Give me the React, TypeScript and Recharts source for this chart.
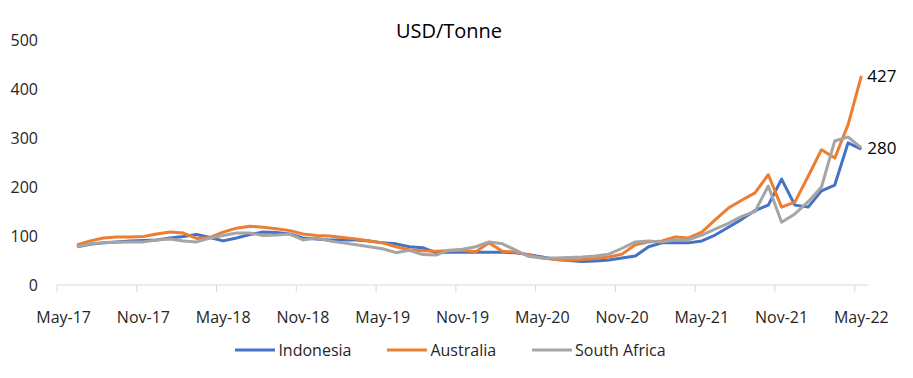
import { LineChart, Line, XAxis, YAxis, Legend, LabelList } from "recharts";

const months = [
  "May-17", "Jun-17", "Jul-17", "Aug-17", "Sep-17", "Oct-17", "Nov-17", "Dec-17",
  "Jan-18", "Feb-18", "Mar-18", "Apr-18", "May-18", "Jun-18", "Jul-18", "Aug-18",
  "Sep-18", "Oct-18", "Nov-18", "Dec-18", "Jan-19", "Feb-19", "Mar-19", "Apr-19",
  "May-19", "Jun-19", "Jul-19", "Aug-19", "Sep-19", "Oct-19", "Nov-19", "Dec-19",
  "Jan-20", "Feb-20", "Mar-20", "Apr-20", "May-20", "Jun-20", "Jul-20", "Aug-20",
  "Sep-20", "Oct-20", "Nov-20", "Dec-20", "Jan-21", "Feb-21", "Mar-21", "Apr-21",
  "May-21", "Jun-21", "Jul-21", "Aug-21", "Sep-21", "Oct-21", "Nov-21", "Dec-21",
  "Jan-22", "Feb-22", "Mar-22", "Apr-22", "May-22",
];

// month indexes that carry a label on the axis
const tickIndexes = [0, 6, 12, 18, 24, 30, 36, 42, 48, 54, 60];
const yTicks = [0, 100, 200, 300, 400, 500];

const indonesia = [
  null, 78, 83, 86, 88, 90, 91, 92, 96, 99, 103, 97, 90, 96, 103, 108,
  107, 104, 96, 94, 92, 92, 92, 90, 86, 84, 78, 76, 66, 67, 67, 67,
  67, 67, 66, 62, 57, 52, 50, 48, 49, 51, 55, 59, 78, 86, 86, 86,
  90, 102, 118, 134, 152, 163, 216, 163, 159, 192, 204, 290, 277,
];
const australia = [
  null, 82, 90, 96, 98, 98, 99, 104, 108, 106, 95, 97, 108, 116, 120, 118,
  115, 111, 104, 101, 100, 97, 94, 90, 86, 78, 72, 70, 69, 70, 71, 68,
  86, 69, 67, 61, 55, 52, 51, 52, 54, 57, 63, 82, 88, 90, 98, 96,
  108, 133, 157, 173, 188, 225, 159, 169, 222, 276, 259, 327, 427,
];
const southAfrica = [
  null, 78, 84, 86, 87, 88, 88, 92, 94, 90, 88, 96, 101, 106, 106, 101,
  102, 104, 92, 96, 90, 86, 82, 78, 74, 66, 71, 62, 61, 71, 73, 78,
  88, 84, 71, 58, 55, 55, 56, 57, 59, 63, 75, 88, 90, 88, 92, 92,
  102, 114, 126, 140, 150, 202, 128, 145, 170, 200, 294, 302, 280,
];

const data = months.map((m, i) => ({
  i,
  month: m,
  indonesia: indonesia[i],
  australia: australia[i],
  southAfrica: southAfrica[i],
}));

const W = 913;
const H = 378;
const PLOT_LEFT = 57;
const PLOT_RIGHT = 868;
const BIN = (PLOT_RIGHT - PLOT_LEFT) / months.length;
const FONT = "'Open Sans', sans-serif";
const TEXT = "#262626";

const series = [
  { key: "indonesia", name: "Indonesia", color: "#4472C4" },
  { key: "australia", name: "Australia", color: "#ED7D31" },
  { key: "southAfrica", name: "South Africa", color: "#A5A5A5" },
];

function MonthTick(props: any) {
  const { x, y, payload } = props;
  return (
    <g>
      <line x1={x - BIN / 2} x2={x - BIN / 2} y1={y} y2={y + 7} stroke="#d9d9d9" />
      <text x={x} y={y + 38} textAnchor="middle" fontSize={16} fill={TEXT} fontFamily={FONT}>
        {months[payload.value]}
      </text>
    </g>
  );
}

function EndLabel(props: any) {
  const { x, y, index, value } = props;
  if (index !== months.length - 1) return null;
  return (
    <text x={x + 6} y={y + 6} fontSize={17} fill="#000" fontFamily={FONT}>
      {value}
    </text>
  );
}

function LegendBox() {
  return (
    <div
      style={{
        display: "flex",
        justifyContent: "center",
        gap: 36,
        fontFamily: FONT,
        fontSize: 16,
        color: TEXT,
        height: 24,
        lineHeight: "24px",
        paddingRight: 12,
      }}
    >
      {series.map((s) => (
        <div key={s.key} style={{ display: "flex", alignItems: "center" }}>
          <svg width={40} height={6} style={{ marginRight: 3 }}>
            <line x1={0} x2={40} y1={3} y2={3} stroke={s.color} strokeWidth={3} />
          </svg>
          <span>{s.name}</span>
        </div>
      ))}
    </div>
  );
}

export default function App() {
  return (
    <div style={{ position: "absolute", left: 0, top: 0, width: W, height: H, background: "#fff" }}>
      <div
        style={{
          position: "absolute",
          top: 17,
          left: 0,
          width: 898,
          textAlign: "center",
          fontFamily: FONT,
          fontSize: 20,
          color: "#000",
          zIndex: 2,
        }}
      >
        USD/Tonne
      </div>
      <LineChart
        width={W}
        height={H}
        data={data}
        margin={{ top: 40, right: W - PLOT_RIGHT, bottom: 24, left: 0 }}
      >
        <XAxis
          dataKey="i"
          type="number"
          domain={[-0.5, months.length - 0.5]}
          ticks={tickIndexes}
          interval={0}
          height={45}
          tickSize={0}
          tickMargin={0}
          tick={<MonthTick />}
          axisLine={{ stroke: "#d9d9d9" }}
        />
        <YAxis
          width={PLOT_LEFT}
          domain={[0, 500]}
          ticks={yTicks}
          axisLine={false}
          tickLine={false}
          tickSize={0}
          tickMargin={19}
          tick={{ fontSize: 16, fill: TEXT, fontFamily: FONT }}
        />
        <Legend
          verticalAlign="bottom"
          content={<LegendBox />}
          wrapperStyle={{ position: "absolute", top: 338, left: 0, width: W, height: 24 }}
        />
        {series.map((s) => (
          <Line
            key={s.key}
            dataKey={s.key}
            name={s.name}
            stroke={s.color}
            strokeWidth={3}
            dot={false}
            activeDot={false}
            isAnimationActive={false}
            strokeLinejoin="round"
          >
            {s.key !== "indonesia" && <LabelList dataKey={s.key} content={<EndLabel />} />}
          </Line>
        ))}
      </LineChart>
    </div>
  );
}
